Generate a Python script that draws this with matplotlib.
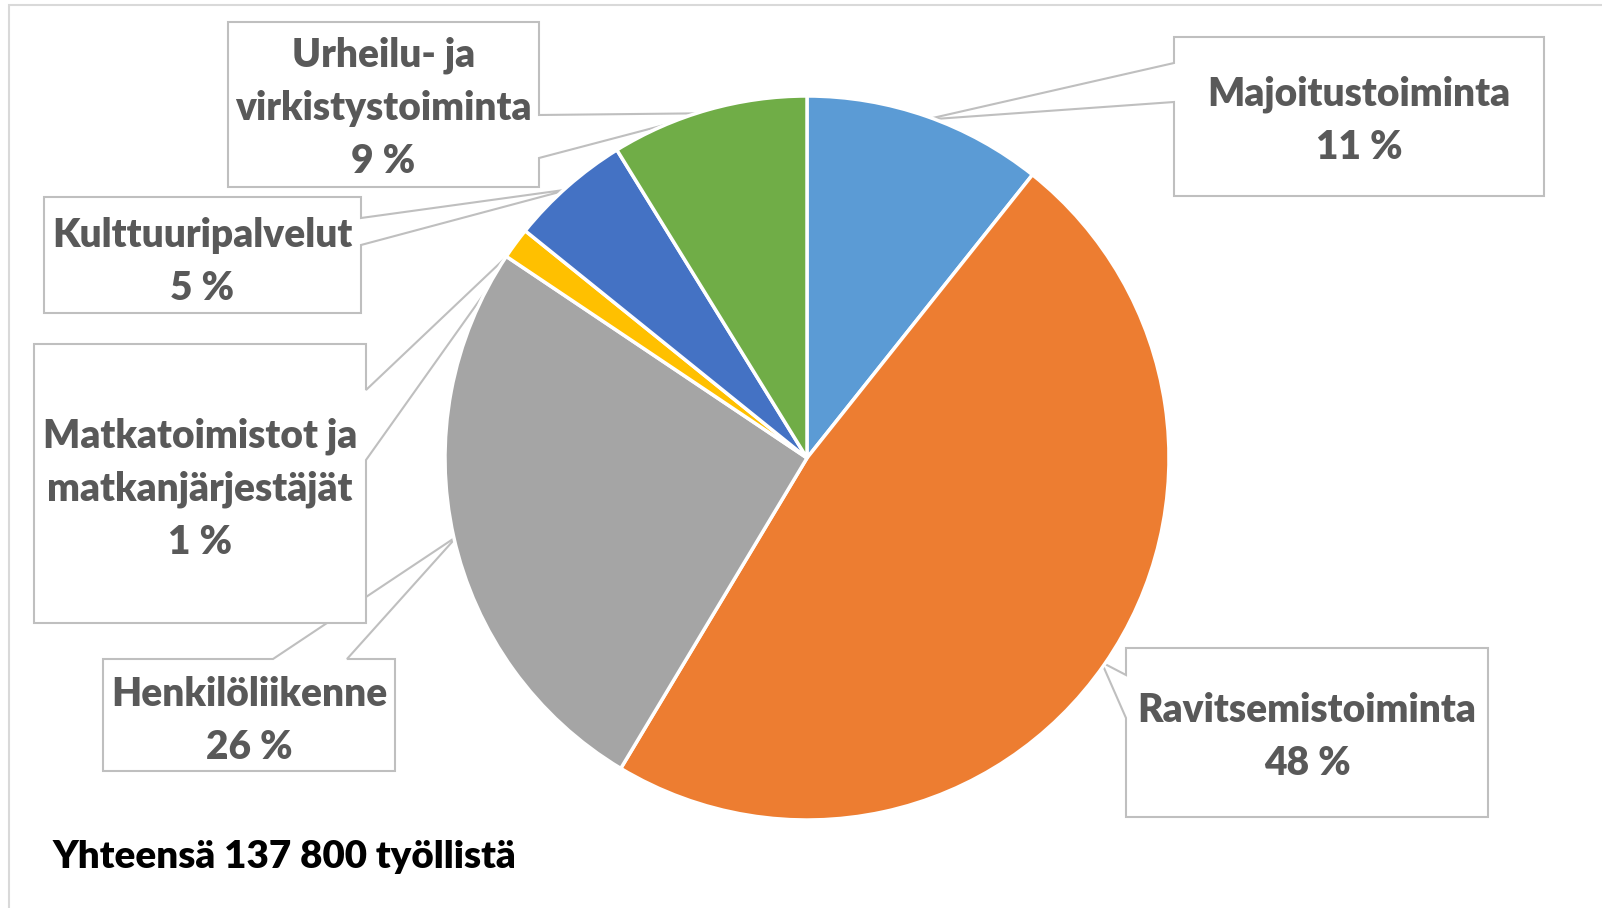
import matplotlib
matplotlib.use("Agg")
import matplotlib.pyplot as plt
from matplotlib.patches import Polygon, Rectangle
import numpy as np

# Toimialojen osuudet (%), luettu kuvasta
names = ["Majoitustoiminta", "Ravitsemistoiminta", "Henkilöliikenne",
         "Matkatoimistot ja\nmatkanjärjestäjät", "Kulttuuripalvelut",
         "Urheilu- ja\nvirkistystoiminta"]
shares = [10.7, 47.9, 25.8, 1.4, 5.4, 8.8]
colors = ["#5B9BD5", "#ED7D31", "#A5A5A5", "#FFC000", "#4472C4", "#70AD47"]
total_text = "Yhteensä 137 800 työllistä"

W, H = 1602, 908
cx, cy, R = 807, 458, 362   # pie centre / radius in px (y from top)

# callout boxes: (x0, y0, x1, y1), side of the pointer, pointer base on that edge
boxes = [
    ((1174, 37, 1544, 196), "left", (63, 102)),
    ((1126, 648, 1488, 817), "left", (675, 718)),
    ((103, 659, 395, 771), "top", (273, 347)),
    ((34, 344, 366, 623), "right", (390, 460)),
    ((44, 197, 361, 313), "right", (218, 245)),
    ((228, 22, 539, 187), "right", (115, 158)),
]
text_y = [121, 737, 721, 489, 262, 108]

fig = plt.figure(figsize=(W / 100, H / 100), dpi=100)
ax = fig.add_axes([0, 0, 1, 1])

def py(y):
    return H - y

ax.pie(shares, colors=colors, startangle=90, counterclock=False,
       center=(cx, py(cy)), radius=R,
       wedgeprops=dict(edgecolor="white", linewidth=2.5, zorder=2))

# outer frame
ax.add_patch(Rectangle((9, -20), W + 20, py(5) + 20, fill=False,
                       edgecolor="#D9D9D9", linewidth=1.5, zorder=0))

cum = np.cumsum([0] + shares[:-1])
for i, (name, v) in enumerate(zip(names, shares)):
    mid = 90 - 360 * (cum[i] + v / 2) / sum(shares)
    ax_x = cx + 0.99 * R * np.cos(np.radians(mid))
    ax_y = cy - 0.99 * R * np.sin(np.radians(mid))
    (x0, y0, x1, y1), side, (a, b) = boxes[i]
    if side == "left":
        pts = [(x0, y0), (x1, y0), (x1, y1), (x0, y1), (x0, b), (ax_x, ax_y), (x0, a)]
    elif side == "right":
        pts = [(x0, y0), (x1, y0), (x1, a), (ax_x, ax_y), (x1, b), (x1, y1), (x0, y1)]
    else:
        pts = [(x0, y0), (a, y0), (ax_x, ax_y), (b, y0), (x1, y0), (x1, y1), (x0, y1)]
    pts = [(x, py(y)) for x, y in pts]
    ax.add_patch(Polygon(pts, closed=True, facecolor="white", edgecolor="#BFBFBF",
                         linewidth=1.5, zorder=1 + i * 0.01))
    ax.text((x0 + x1) / 2, py(text_y[i]), f"{name}\n{round(v)} %",
            ha="center", va="center", fontsize=28, fontweight="heavy",
            color="#595959", family="Lato", linespacing=1.53, zorder=3)

ax.text(53, py(857), total_text, ha="left", va="center", fontsize=27.7,
        fontweight="heavy", color="black", family="Lato")

ax.set_xlim(0, W)
ax.set_ylim(0, H)
ax.set_aspect("equal")
ax.axis("off")
fig.savefig("out.png", dpi=100, facecolor="white")
